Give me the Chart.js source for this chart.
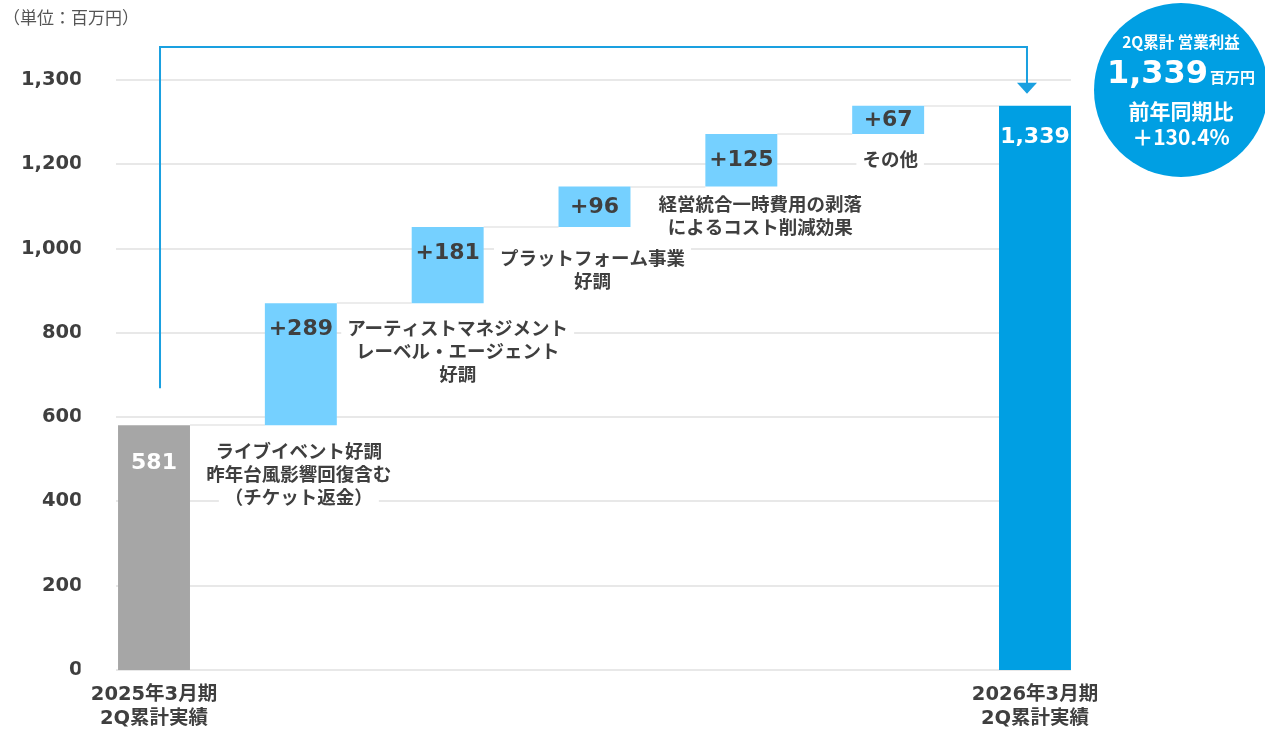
<!DOCTYPE html>
<html lang="ja">
<head>
<meta charset="utf-8">
<title>2Q累計 営業利益 増減</title>
<script src="https://cdn.jsdelivr.net/npm/chart.js@4/dist/chart.umd.min.js"></script>
<style>
  html, body { margin: 0; padding: 0; background: #fff; }
  #wrap { width: 1265px; height: 729px; position: relative; }
</style>
</head>
<body>
<div id="wrap"><canvas id="bridgeChart" width="1265" height="729"></canvas></div>
<script>
// Waterfall: operating profit 2Q cumulative, FY2025/3 -> FY2026/3 (百万円)

const categories = [
  ['2025年3月期', '2Q累計実績'], '', '', '', '', '', ['2026年3月期', '2Q累計実績']
];
const startValue = 581;
const deltas = [289, 181, 96, 125, 67];
const endValue = 1339;
const deltaNotes = [
  ['ライブイベント好調', '昨年台風影響回復含む', '（チケット返金）'],
  ['アーティストマネジメント', 'レーベル・エージェント', '好調'],
  ['プラットフォーム事業', '好調'],
  ['経営統合一時費用の剥落', 'によるコスト削減効果'],
  ['その他']
];
const yTickLabels = ['0', '200', '400', '600', '800', '1,000', '1,200', '1,300'];
const unitLabel = '（単位：百万円）';
const badgeLines = ['2Q累計 営業利益', '1,339', '百万円', '前年同期比', '＋130.4%'];

// floating bars built from the arrays above
const ranges = [[0, startValue]];
let run = startValue;
deltas.forEach(d => { ranges.push([run, run + d]); run += d; });
ranges.push([0, endValue]);
const valueLabels = [String(startValue)]
  .concat(deltas.map(d => '+' + d))
  .concat([endValue.toLocaleString('en-US')]);

const TEXT = '#3f3f3f';
const NUM_FONT = '"DejaVu Sans", "Noto Sans CJK JP", sans-serif';
const JP_FONT = '"Noto Sans CJK JP", "Noto Sans", sans-serif';
const GRID = '#e8e8e8';
const BLUE = '#009fe3';

// note placement tweaks (dx, dy) relative to the bar bottom / centre
const noteShift = [[-2, 1], [10, 0], [-2, 6], [19, -8], [2, 0]];

const decorPlugin = {
  id: 'decor',
  beforeDatasetsDraw(chart) {
    const ctx = chart.ctx;
    const ys = chart.scales.y;
    const meta = chart.getDatasetMeta(0);
    const first = meta.data[0], last = meta.data[meta.data.length - 1];
    const left = first.x - first.width / 2 - 2;
    const right = last.x + last.width / 2;

    ctx.save();
    // grid lines
    ctx.strokeStyle = GRID;
    ctx.lineWidth = 2;
    ys.ticks.forEach(t => {
      const y = Math.round(ys.getPixelForValue(t.value));
      ctx.beginPath(); ctx.moveTo(left, y); ctx.lineTo(right, y); ctx.stroke();
    });
    // connectors between bars
    ctx.strokeStyle = '#ececec';
    for (let i = 0; i < meta.data.length - 1; i++) {
      const a = meta.data[i], b = meta.data[i + 1];
      const y = Math.round(ys.getPixelForValue(ranges[i][1]));
      ctx.beginPath(); ctx.moveTo(a.x + a.width / 2, y); ctx.lineTo(b.x - b.width / 2, y); ctx.stroke();
    }

    // notes under each delta bar, white backing
    ctx.font = 'bold 18.5px ' + JP_FONT;
    ctx.textAlign = 'center';
    ctx.textBaseline = 'middle';
    deltaNotes.forEach((lines, i) => {
      const bar = meta.data[i + 1];
      const bottom = ys.getPixelForValue(ranges[i + 1][0]);
      const cx = bar.x + noteShift[i][0];
      lines.forEach((line, j) => {
        const y = bottom + 25 + noteShift[i][1] + j * 23;
        const w = ctx.measureText(line).width;
        ctx.fillStyle = '#fff';
        ctx.fillRect(cx - w / 2 - 6, y - 11, w + 12, 23);
        ctx.fillStyle = TEXT;
        ctx.fillText(line, cx, y);
      });
    });
    ctx.restore();
  },
  afterDatasetsDraw(chart) {
    const ctx = chart.ctx;
    const ys = chart.scales.y;
    const meta = chart.getDatasetMeta(0);
    ctx.save();
    ctx.textAlign = 'center';
    ctx.textBaseline = 'middle';
    // value labels
    meta.data.forEach((bar, i) => {
      const top = ys.getPixelForValue(ranges[i][1]);
      const h = ys.getPixelForValue(ranges[i][0]) - top;
      const isTotal = i === 0 || i === meta.data.length - 1;
      ctx.font = 'bold 22px ' + NUM_FONT;
      ctx.fillStyle = isTotal ? '#fff' : TEXT;
      const y = isTotal ? top + (i === 0 ? 38 : 32) : top + Math.min(26, h / 2);
      ctx.fillText(valueLabels[i], bar.x, y);
    });

    // bracket arrow from first to last bar
    const a = meta.data[0], b = meta.data[meta.data.length - 1];
    const x1 = a.x + 6, x2 = b.x - 8;
    const yTop = chart.chartArea.top - 33;
    const yStart = ys.getPixelForValue(ranges[0][1]) - 37;
    const tip = ys.getPixelForValue(ranges[ranges.length - 1][1]) - 12;
    ctx.strokeStyle = '#1aa0e0';
    ctx.fillStyle = '#1aa0e0';
    ctx.lineWidth = 2;
    ctx.beginPath();
    ctx.moveTo(x1, yStart); ctx.lineTo(x1, yTop); ctx.lineTo(x2, yTop); ctx.lineTo(x2, tip - 10);
    ctx.stroke();
    ctx.beginPath();
    ctx.moveTo(x2 - 10, tip - 11); ctx.lineTo(x2 + 10, tip - 11); ctx.lineTo(x2, tip);
    ctx.closePath(); ctx.fill();

    // unit label
    ctx.font = '17px ' + JP_FONT;
    ctx.fillStyle = '#555';
    ctx.textAlign = 'left';
    ctx.fillText(unitLabel, 3, 18);

    // badge circle
    const cx = 1181, cy = 90;
    ctx.fillStyle = BLUE;
    ctx.beginPath(); ctx.arc(cx, cy, 87, 0, Math.PI * 2); ctx.fill();
    ctx.fillStyle = '#fff';
    ctx.textAlign = 'center';
    ctx.font = 'bold 15.5px ' + JP_FONT;
    ctx.fillText(badgeLines[0], cx, 42);
    ctx.font = 'bold 32px ' + NUM_FONT;
    const wBig = ctx.measureText(badgeLines[1]).width;
    ctx.font = 'bold 15px ' + JP_FONT;
    const wSmall = ctx.measureText(badgeLines[2]).width;
    const startX = cx - (wBig + wSmall + 2) / 2;
    ctx.textAlign = 'left';
    ctx.textBaseline = 'alphabetic';
    ctx.font = 'bold 32px ' + NUM_FONT;
    ctx.fillText(badgeLines[1], startX, 83);
    ctx.font = 'bold 15px ' + JP_FONT;
    ctx.fillText(badgeLines[2], startX + wBig + 2, 83);
    ctx.textAlign = 'center';
    ctx.textBaseline = 'middle';
    ctx.font = 'bold 21px ' + JP_FONT;
    ctx.fillText(badgeLines[3], cx, 111);
    ctx.font = 'bold 21px ' + JP_FONT;
    ctx.fillText(badgeLines[4], cx, 137);
    ctx.restore();
  }
};

new Chart(document.getElementById('bridgeChart'), {
  type: 'bar',
  data: {
    labels: categories,
    datasets: [{
      data: ranges,
      backgroundColor: ['#a6a6a6', '#75d0ff', '#75d0ff', '#75d0ff', '#75d0ff', '#75d0ff', BLUE],
      borderWidth: 0,
      borderSkipped: false,
      barPercentage: 1,
      categoryPercentage: 0.49
    }]
  },
  options: {
    responsive: false,
    animation: false,
    layout: { padding: { top: 80, right: 156.6, bottom: 0, left: 0 } },
    plugins: { legend: { display: false }, tooltip: { enabled: false } },
    scales: {
      x: {
        grid: { display: false },
        border: { display: false },
        afterFit: s => { s.height = 59; },
        ticks: {
          autoSkip: false,
          maxRotation: 0,
          padding: 5,
          color: TEXT,
          font: { family: NUM_FONT, size: 19.5, weight: 'bold', lineHeight: 1.22 }
        }
      },
      y: {
        min: 0,
        max: 1400,
        grid: { display: false },
        border: { display: false },
        afterFit: s => { s.width = 80.6; },
        ticks: {
          stepSize: 200,
          padding: -10,
          color: TEXT,
          font: { family: NUM_FONT, size: 19.5, weight: 'bold' },
          callback: (v, i) => yTickLabels[i]
        }
      }
    }
  },
  plugins: [decorPlugin]
});
</script>
</body>
</html>
